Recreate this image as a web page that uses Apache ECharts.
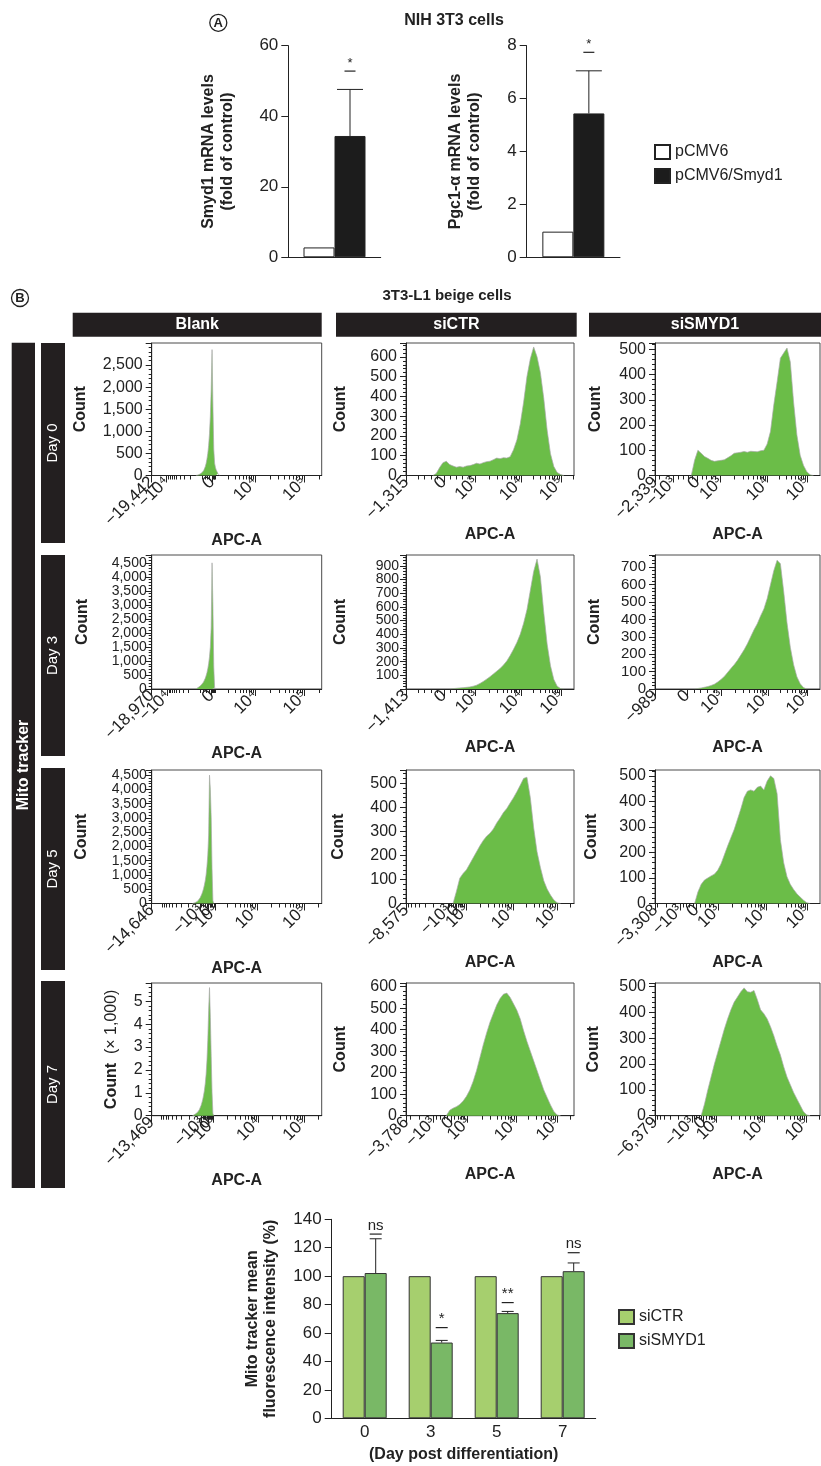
<!DOCTYPE html>
<html>
<head>
<meta charset="utf-8">
<script src="https://cdn.jsdelivr.net/npm/echarts@6/dist/echarts.min.js"></script>
<style>
  html, body { margin: 0; padding: 0; background: #fff; }
  #chart { width: 821px; height: 1466px; }
</style>
</head>
<body>
<div id="chart"></div>
<script>
const FONT = "'Liberation Sans', Arial, Helvetica, sans-serif";
const INK = '#222';
const GREEN = '#6bbd48';

// ---- panel A : NIH 3T3 cells
const plasmids = ['pCMV6', 'pCMV6/Smyd1'];
const smyd1Fold = [2.8, 34.4];
const smyd1ErrTop = [null, 47.6];
const smyd1SigLevel = 52.8;
const pgc1Fold = [0.97, 5.44];
const pgc1ErrTop = [null, 7.05];
const pgc1SigLevel = 7.75;

// ---- panel B : 3T3-L1 beige cells, APC-A histograms (row by row: Blank, siCTR, siSMYD1)
const treatments = ['Blank', 'siCTR', 'siSMYD1'];
const days = ['Day 0', 'Day 3', 'Day 5', 'Day 7'];

const blankD0 = [0, 5, 10, 15, 22, 32, 45, 60, 80, 105, 145, 200, 270, 370, 500, 680, 950, 1350, 1950, 2850, 1600, 600, 280, 180, 120, 80, 40, 10, 0];
const ctrD0 = [0, 10, 40, 65, 72, 55, 48, 42, 45, 42, 48, 50, 55, 62, 58, 65, 70, 72, 80, 88, 85, 90, 88, 95, 130, 180, 260, 370, 500, 590, 650, 600, 520, 390, 230, 110, 45, 15, 5, 0];
const smydD0 = [0, 60, 100, 88, 75, 68, 60, 56, 58, 60, 62, 70, 78, 88, 90, 92, 95, 92, 96, 95, 94, 98, 100, 125, 175, 280, 370, 465, 485, 505, 450, 290, 160, 80, 40, 15, 3, 0];
const blankD3 = [0, 20, 40, 60, 80, 100, 130, 160, 200, 250, 310, 380, 470, 580, 720, 900, 1150, 1500, 2200, 4500, 3000, 800, 50, 20, 0];
const ctrD3 = [0, 3, 5, 8, 10, 12, 15, 20, 28, 40, 55, 72, 90, 110, 130, 150, 175, 205, 245, 290, 340, 400, 480, 580, 720, 860, 950, 820, 560, 330, 170, 70, 20, 3, 0];
const smydD3 = [0, 3, 6, 10, 14, 20, 28, 40, 55, 72, 95, 118, 140, 165, 195, 225, 260, 300, 340, 375, 420, 460, 520, 600, 680, 740, 720, 560, 380, 240, 140, 70, 30, 8, 0];
const blankD5 = [0, 10, 20, 30, 45, 60, 80, 110, 150, 200, 260, 330, 420, 520, 650, 800, 1000, 1300, 1700, 2400, 4500, 4000, 3000, 1200, 100, 0];
const ctrD5 = [0, 50, 105, 125, 140, 165, 190, 215, 240, 262, 280, 292, 310, 335, 355, 378, 395, 418, 440, 465, 492, 520, 525, 440, 315, 215, 150, 95, 60, 35, 15, 3, 0];
const smydD5 = [0, 45, 75, 92, 100, 108, 115, 130, 155, 190, 225, 258, 290, 330, 370, 415, 440, 445, 440, 455, 460, 445, 480, 500, 490, 430, 250, 160, 105, 75, 55, 38, 25, 13, 3, 0];
const blankD7 = [0, 0.02, 0.04, 0.06, 0.08, 0.11, 0.15, 0.2, 0.26, 0.34, 0.44, 0.56, 0.7, 0.88, 1.1, 1.4, 1.8, 2.4, 3.3, 4.6, 5.6, 4.3, 2.6, 1.0, 0.1, 0];
const ctrD7 = [0, 25, 35, 42, 52, 68, 90, 120, 160, 210, 270, 330, 385, 435, 475, 515, 545, 565, 570, 550, 520, 490, 450, 395, 345, 300, 255, 210, 165, 120, 85, 50, 20, 3, 0];
const smydD7 = [0, 45, 100, 150, 200, 245, 290, 335, 375, 410, 440, 460, 480, 495, 480, 478, 485, 450, 410, 395, 375, 345, 310, 270, 235, 190, 150, 120, 90, 65, 40, 15, 3, 0];

const histCounts = [blankD0, ctrD0, smydD0, blankD3, ctrD3, smydD3, blankD5, ctrD5, smydD5, blankD7, ctrD7, smydD7];
// first bin and bin width, in % of the APC-A display range
const histStart = [26, 16, 22, 26, 26, 24, 24, 28, 24, 24, 24, 28];
const histStep = [0.5, 2, 2, 0.5, 2, 2, 0.5, 2, 2, 0.5, 2, 2];

const countMax = [3000, 670, 525, 4780, 980, 770, 4680, 555, 523, 5.8, 617, 514];
const countStep = [500, 100, 100, 500, 100, 100, 500, 100, 100, 1, 100, 100];

const decadeNames = ['−10⁴', '−10³', '0', '10³', '10⁴', '10⁵'];
const apcTickText = [
  ['−19,442', '−10⁴', '0', '10⁴', '10⁵'],
  ['−1,315', '0', '10³', '10⁴', '10⁵'],
  ['−2,339', '−10³', '0', '10³', '10⁴', '10⁵'],
  ['−18,970', '−10⁴', '0', '10⁴', '10⁵'],
  ['−1,413', '0', '10³', '10⁴', '10⁵'],
  ['−989', '0', '10³', '10⁴', '10⁵'],
  ['−14,646', '−10³', '0', '10³', '10⁴', '10⁵'],
  ['−8,575', '−10³', '0', '10³', '10⁴', '10⁵'],
  ['−3,308', '−10³', '0', '10³', '10⁴', '10⁵'],
  ['−13,469', '−10³', '0', '10³', '10⁴', '10⁵'],
  ['−3,786', '−10³', '0', '10³', '10⁴', '10⁵'],
  ['−6,379', '−10³', '0', '10³', '10⁴', '10⁵']
];
// where -1e4, -1e3, 0, 1e3, 1e4, 1e5 sit on each axis (% of width)
const apcDecadePos = [
  [8.8, 28.4, 35.5, 38, 60.8, 89.6],
  [null, 3.4, 22.5, 41.2, 68.4, 92.2],
  [-17, 11.2, 25.7, 39.4, 68.3, 92.4],
  [9.4, 27, 35.3, 38, 61, 89.9],
  [null, 3.5, 22.5, 41.5, 68.5, 92.5],
  [null, null, 19.5, 40, 68.5, 92.5],
  [4.9, 28.4, 33.5, 37.3, 61.8, 89.6],
  [-3, 24.9, 30.2, 35.7, 63.7, 89.8],
  [-13, 15, 25.1, 38.2, 67.3, 92.4],
  [4.5, 29.4, 33.3, 36.3, 62.7, 89.8],
  [-12, 16.1, 26.9, 36.7, 65.5, 90.2],
  [-5, 22.4, 29.4, 37.4, 66.4, 91.8]
];

// ---- bottom : mean fluorescence
const dayPost = ['0', '3', '5', '7'];
const groupsC = ['siCTR', 'siSMYD1'];
const mfiCtr = [100, 100, 100, 100];
const mfiSmyd = [102.2, 53.3, 74, 103.5];
const mfiSmydErrTop = [126.3, 54.8, 75.2, 109.3];
const mfiSig = ['ns', '*', '**', 'ns'];
const mfiSigLevel = [129.6, 63.8, 81.4, 116.5];

// layout of the histogram matrix
const colLeft = [151.7, 406, 655];
const colWidth = [170, 168, 165];
const rowTop = [343, 555, 770, 983];
const rowHeight = [132.5, 134, 133.5, 132.7];
const countNameGap = [63, 57.7, 51.7, 61.4, 57, 52, 62.4, 59.3, 55, 31.7, 57.7, 53.3];
const countFont = [16, 16, 16, 14, 14, 15, 14, 16, 16, 16, 16, 16];
const countMargin = [9, 9, 9, 5, 7, 9, 5, 9, 9, 9, 9, 9];

function minorTicks(dec) {
  const [n4, n3, z, p3, p4, p5] = dec;
  const out = [];
  const logSpan = (a, b) => {
    if (a == null || b == null) return;
    for (let m = 2; m <= 9; m++) out.push(a + Math.log10(m) * (b - a));
  };
  const linSpan = (a, b) => {
    if (a == null || b == null) return;
    for (let m = 2; m <= 8; m += 2) out.push(a + (b - a) * m / 10);
  };
  logSpan(n3, n4);
  linSpan(z, n3);
  linSpan(z, p3);
  logSpan(p3, p4);
  logSpan(p4, p5);
  logSpan(p5, p5 + (p5 - p4));
  return out.filter(v => v > 0.5 && v < 99.5);
}

function errorBar(offset, capHalf) {
  return function (params, api) {
    const base = api.coord([api.value(0), api.value(1)]);
    const tip = api.coord([api.value(0), api.value(2)]);
    const x = base[0] + offset;
    const st = { stroke: INK, lineWidth: 1 };
    return {
      type: 'group',
      children: [
        { type: 'line', shape: { x1: x, y1: base[1], x2: x, y2: tip[1] }, style: st },
        { type: 'line', shape: { x1: x - capHalf, y1: tip[1], x2: x + capHalf, y2: tip[1] }, style: st }
      ]
    };
  };
}

function sigMark(offset, halfW, labels, fontSize) {
  return function (params, api) {
    const p = api.coord([api.value(0), api.value(1)]);
    const x = p[0] + offset;
    return {
      type: 'group',
      children: [
        { type: 'line', shape: { x1: x - halfW, y1: p[1], x2: x + halfW, y2: p[1] }, style: { stroke: INK, lineWidth: 1.2 } },
        { type: 'text', x: x, y: p[1] - 1, style: { text: labels[params.dataIndex], fill: INK, font: fontSize + 'px ' + FONT, align: 'center', verticalAlign: 'bottom' } }
      ]
    };
  };
}

const grids = [], xAxes = [], yAxes = [], series = [];

function barPanel(left, width, vals, errTop, sigLevel, yMax, yInterval, yName, nameGap) {
  const gi = grids.length, xi = xAxes.length, yi = yAxes.length;
  grids.push({ left: left, top: 45.7, width: width, height: 211.6, containLabel: false, outerBoundsMode: 'none' });
  xAxes.push({
    type: 'category', gridIndex: gi, data: ['fold'],
    axisLine: { show: true, lineStyle: { color: INK, width: 1 } },
    axisTick: { show: false }, axisLabel: { show: false }
  });
  yAxes.push({
    type: 'value', gridIndex: gi, min: 0, max: yMax, interval: yInterval,
    axisLine: { show: true, lineStyle: { color: INK, width: 1 } },
    axisTick: { show: true, length: 7, lineStyle: { color: INK } },
    axisLabel: { fontSize: 17, color: INK, margin: 10 },
    splitLine: { show: false },
    name: yName, nameLocation: 'middle', nameGap: nameGap,
    nameTextStyle: { fontWeight: 'bold', fontSize: 16, lineHeight: 19, color: INK }
  });
  series.push({
    type: 'bar', name: plasmids[0], xAxisIndex: xi, yAxisIndex: yi, data: [vals[0]],
    barWidth: 31, barGap: '0%', itemStyle: { color: '#fff', borderColor: INK, borderWidth: 1 }
  });
  series.push({
    type: 'bar', name: plasmids[1], xAxisIndex: xi, yAxisIndex: yi, data: [vals[1]],
    barWidth: 31, barGap: '0%', itemStyle: { color: '#1c1c1c', borderColor: INK, borderWidth: 1 }
  });
  series.push({
    type: 'custom', xAxisIndex: xi, yAxisIndex: yi, silent: true, z: 5,
    data: [[0, vals[1], errTop[1]]], renderItem: errorBar(15.5, 13)
  });
  series.push({
    type: 'custom', xAxisIndex: xi, yAxisIndex: yi, silent: true, z: 5,
    data: [[0, sigLevel]], renderItem: sigMark(15.5, 5.5, ['*'], 13)
  });
}

barPanel(288.3, 92.4, smyd1Fold, smyd1ErrTop, smyd1SigLevel, 60, 20, 'Smyd1 mRNA levels\n(fold of control)', 51);
barPanel(526.7, 93.3, pgc1Fold, pgc1ErrTop, pgc1SigLevel, 8, 2, 'Pgc1-α mRNA levels\n(fold of control)', 43);

// histogram matrix
histCounts.forEach(function (counts, k) {
  const r = Math.floor(k / 3), c = k % 3;
  const gi = grids.length, xi = xAxes.length, yi = yAxes.length;
  const dec = apcDecadePos[k], text = apcTickText[k];
  // first tick sits on the axis start; a blank guard label at each end keeps
  // the min/max overlap check from dropping a real label
  const pos = text.map((t, i) => (i === 0 ? 0.001 : dec[decadeNames.indexOf(t)]));
  const labelPos = [0].concat(pos, [100]);
  const labelText = [''].concat(text, ['']);
  grids.push({
    left: colLeft[c], top: rowTop[r], width: colWidth[c], height: rowHeight[r],
    show: true, borderColor: '#4a4a4a', borderWidth: 1, containLabel: false, outerBoundsMode: 'none'
  });
  xAxes.push({
    type: 'value', gridIndex: gi, min: 0, max: 100, position: 'bottom',
    axisLine: { show: true, lineStyle: { color: INK, width: 1 } },
    axisTick: { show: true, customValues: labelPos, length: 7, lineStyle: { color: INK } },
    axisLabel: {
      show: true, customValues: labelPos, rotate: 45, fontSize: 17, color: INK, margin: 4,
      showMinLabel: false, showMaxLabel: false, hideOverlap: false,
      formatter: function (v) {
        const i = labelPos.findIndex(p => Math.abs(p - v) < 1e-9);
        return i >= 0 ? labelText[i] : '';
      }
    },
    splitLine: { show: false },
    name: 'APC-A', nameLocation: 'middle', nameGap: 51,
    nameTextStyle: { fontWeight: 'bold', fontSize: 16, color: INK }
  });
  xAxes.push({
    type: 'value', gridIndex: gi, min: 0, max: 100, position: 'bottom',
    axisLine: { show: false },
    axisTick: { show: true, customValues: minorTicks(dec), length: 4, lineStyle: { color: INK } },
    axisLabel: { show: false }, splitLine: { show: false }
  });
  const perThousand = k === 9;
  yAxes.push({
    type: 'value', gridIndex: gi, min: 0, max: countMax[k], interval: countStep[k],
    axisLine: { show: true, lineStyle: { color: INK, width: 1 } },
    axisTick: { show: true, length: 6, lineStyle: { color: INK } },
    minorTick: { show: true, splitNumber: 5, length: 3, lineStyle: { color: INK } },
    splitLine: { show: false }, minorSplitLine: { show: false },
    axisLabel: {
      fontSize: countFont[k], color: INK, margin: countMargin[k], showMaxLabel: false,
      formatter: v => v.toLocaleString('en-US')
    },
    name: perThousand ? '{b|Count}  {r|(× 1,000)}' : 'Count',
    nameLocation: 'middle', nameGap: countNameGap[k],
    nameTextStyle: perThousand
      ? { color: INK, fontSize: 16, rich: { b: { fontWeight: 'bold', fontSize: 16, fontFamily: FONT, color: INK }, r: { fontSize: 16, fontFamily: FONT, color: INK } } }
      : { fontWeight: 'bold', fontSize: 16, color: INK }
  });
  series.push({
    type: 'line', xAxisIndex: xi, yAxisIndex: yi, silent: true, symbol: 'none',
    data: counts.map((v, i) => [histStart[k] + i * histStep[k], v]),
    lineStyle: { color: '#a9a9a9', width: 0.7 },
    areaStyle: { color: GREEN, opacity: 1 }, z: 2
  });
});

// mean fluorescence bar chart
(function () {
  const gi = grids.length, xi = xAxes.length, yi = yAxes.length;
  grids.push({ left: 331.7, top: 1219.3, width: 264, height: 199, containLabel: false, outerBoundsMode: 'none' });
  xAxes.push({
    type: 'category', gridIndex: gi, data: dayPost,
    axisLine: { show: true, lineStyle: { color: INK, width: 1 } },
    axisTick: { show: false },
    axisLabel: { fontSize: 17, color: INK, margin: 6 },
    name: '(Day post differentiation)', nameLocation: 'middle', nameGap: 28,
    nameTextStyle: { fontWeight: 'bold', fontSize: 16, color: INK }
  });
  yAxes.push({
    type: 'value', gridIndex: gi, min: 0, max: 140, interval: 20,
    axisLine: { show: true, lineStyle: { color: INK, width: 1 } },
    axisTick: { show: true, length: 7, lineStyle: { color: INK } },
    axisLabel: { fontSize: 17, color: INK, margin: 10 },
    splitLine: { show: false },
    name: 'Mito tracker mean\nfluorescence intensity (%)', nameLocation: 'middle', nameGap: 52,
    nameTextStyle: { fontWeight: 'bold', fontSize: 16, lineHeight: 18, color: INK }
  });
  series.push({
    type: 'bar', name: groupsC[0], xAxisIndex: xi, yAxisIndex: yi, data: mfiCtr,
    barWidth: 22, barGap: '0%', itemStyle: { color: '#a6cf6e', borderColor: '#333', borderWidth: 1 }
  });
  series.push({
    type: 'bar', name: groupsC[1], xAxisIndex: xi, yAxisIndex: yi, data: mfiSmyd,
    barWidth: 22, barGap: '0%', itemStyle: { color: '#79b866', borderColor: '#333', borderWidth: 1 }
  });
  series.push({
    type: 'custom', xAxisIndex: xi, yAxisIndex: yi, silent: true, z: 5,
    data: dayPost.map((d, i) => [i, mfiSmyd[i], mfiSmydErrTop[i]]), renderItem: errorBar(11, 6)
  });
  series.push({
    type: 'custom', xAxisIndex: xi, yAxisIndex: yi, silent: true, z: 5,
    data: dayPost.map((d, i) => [i, mfiSigLevel[i]]), renderItem: sigMark(11, 6, mfiSig, 15)
  });
})();

// frames, headers and panel letters
const graphics = [];
function label(x, y, text, size, weight, color, rot) {
  graphics.push({
    type: 'text', x: x, y: y, rotation: rot || 0, silent: true,
    style: { text: text, fill: color, font: (weight || 'normal') + ' ' + size + 'px ' + FONT, align: 'center', verticalAlign: 'middle' }
  });
}
function block(x, y, w, h) {
  graphics.push({ type: 'rect', silent: true, shape: { x: x, y: y, width: w, height: h }, style: { fill: '#231f20' } });
}
function circled(x, y, letter) {
  graphics.push({ type: 'circle', silent: true, shape: { cx: x, cy: y, r: 8.5 }, style: { fill: 'none', stroke: INK, lineWidth: 1.3 } });
  label(x, y + 0.5, letter, 13, 'bold', INK);
}
circled(218.3, 22.8, 'A');
label(454, 21, 'NIH 3T3 cells', 16, 'bold', INK);
circled(20, 298, 'B');
label(447, 296, '3T3-L1 beige cells', 15, 'bold', INK);

const headerX = [[72.7, 321.7], [336, 576.7], [589, 821]];
treatments.forEach((t, i) => {
  block(headerX[i][0], 312.7, headerX[i][1] - headerX[i][0], 24);
  label((headerX[i][0] + headerX[i][1]) / 2, 325, t, 16, 'bold', '#fff');
});
block(11.7, 342.7, 23.3, 845.3);
label(23.3, 765, 'Mito tracker', 16, 'bold', '#fff', Math.PI / 2);
const dayBarY = [[343, 543], [555, 756], [768, 970], [981, 1188]];
days.forEach((d, i) => {
  block(41, dayBarY[i][0], 24, dayBarY[i][1] - dayBarY[i][0]);
  label(53, (dayBarY[i][0] + dayBarY[i][1]) / 2, d, 15, 'normal', '#fff', Math.PI / 2);
});

const chart = echarts.init(document.getElementById('chart'), null, { renderer: 'canvas' });
chart.setOption({
  animation: false,
  backgroundColor: '#fff',
  textStyle: { fontFamily: FONT, color: INK },
  grid: grids,
  xAxis: xAxes,
  yAxis: yAxes,
  legend: [
    {
      data: plasmids, orient: 'vertical', left: 649, top: 139, itemWidth: 15, itemHeight: 14, itemGap: 8,
      icon: 'rect', selectedMode: false, textStyle: { fontSize: 16, color: INK, fontFamily: FONT }
    },
    {
      data: groupsC, orient: 'vertical', left: 613, top: 1304, itemWidth: 15, itemHeight: 14, itemGap: 8,
      icon: 'rect', selectedMode: false, textStyle: { fontSize: 16, color: INK, fontFamily: FONT }
    }
  ],
  graphic: graphics,
  series: series
});
</script>
</body>
</html>
